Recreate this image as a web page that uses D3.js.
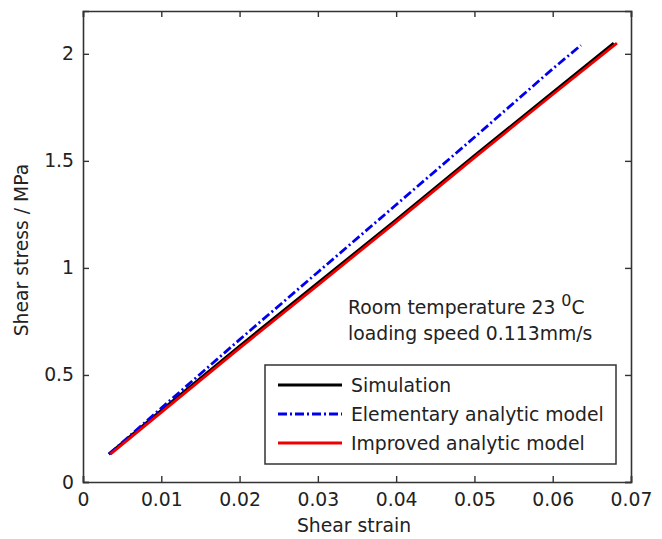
<!DOCTYPE html>
<html>
<head>
<meta charset="utf-8">
<script src="https://cdn.jsdelivr.net/npm/d3@7"></script>
<style>
  html, body { margin: 0; padding: 0; background: #fff; overflow: hidden; }
  svg { display: block; }
  svg text { font-family: "DejaVu Sans", Verdana, sans-serif; fill: #222; }
</style>
</head>
<body>
<svg id="chart" width="662" height="539"></svg>
<script>
// strain values
const simStrain = [0.0033, 0.01, 0.02, 0.03, 0.04, 0.05, 0.06, 0.0678];
const simStress = [0.13, 0.335, 0.635, 0.93, 1.225, 1.525, 1.82, 2.05];

const elemStrain = [0.0033, 0.01, 0.02, 0.03, 0.04, 0.05, 0.06, 0.0636];
const elemStress = [0.13, 0.345, 0.665, 0.98, 1.295, 1.61, 1.93, 2.04];

const impStrain = [0.0035, 0.01, 0.02, 0.03, 0.04, 0.05, 0.06, 0.0682];
const impStress = [0.13, 0.325, 0.625, 0.92, 1.215, 1.515, 1.81, 2.05];

const xTicks = [0, 0.01, 0.02, 0.03, 0.04, 0.05, 0.06, 0.07];
const yTicks = [0, 0.5, 1, 1.5, 2];
const legendNames = ["Simulation", "Elementary analytic model", "Improved analytic model"];

const svg = d3.select('#chart');
const margin = { top: 11, left: 83, right: 31, bottom: 57 };
const width = 662, height = 539;
const innerWidth = width - margin.left - margin.right;
const innerHeight = height - margin.top - margin.bottom;
const fs = '18.8px';

const xScale = d3.scaleLinear().domain([0, 0.07]).range([0, innerWidth]);
const yScale = d3.scaleLinear().domain([0, 2.2]).range([innerHeight, 0]);

const g = svg.append('g').attr('transform', `translate(${margin.left},${margin.top})`);

const axisColor = '#333';
const tickLen = 6;

// bottom + left axes with labels, top + right only ticks (all inward)
const xAxis = d3.axisBottom(xScale).tickValues(xTicks).tickSize(-tickLen).tickPadding(11)
  .tickFormat(d => d === 0 ? '0' : d3.format('.2f')(d));
const gx = g.append('g').attr('transform', `translate(0,${innerHeight})`).call(xAxis);
const gxTop = g.append('g').call(d3.axisTop(xScale).tickValues(xTicks).tickSize(-tickLen));

const yAxis = d3.axisLeft(yScale).tickValues(yTicks).tickSize(-tickLen).tickPadding(9)
  .tickFormat(d => d3.format('')(d));
const gy = g.append('g').call(yAxis);
const gyRight = g.append('g').attr('transform', `translate(${innerWidth},0)`)
  .call(d3.axisRight(yScale).tickValues(yTicks).tickSize(-tickLen));

gxTop.selectAll('.tick text').remove();
gyRight.selectAll('.tick text').remove();

[gx, gxTop, gy, gyRight].forEach(a => {
  a.attr('font-family', null).attr('font-size', null);
  a.select('.domain').attr('stroke', axisColor).attr('stroke-width', 1.6);
  a.selectAll('.tick line').attr('stroke', axisColor).attr('stroke-width', 1.4);
  a.selectAll('.tick text').style('font-size', fs).attr('fill', '#222');
});

// lines
const line = d3.line().x(d => xScale(d[0])).y(d => yScale(d[1]));

g.append('path')
  .datum(d3.zip(simStrain, simStress))
  .attr('d', line).attr('fill', 'none')
  .attr('stroke', '#000').attr('stroke-width', 2.8);

g.append('path')
  .datum(d3.zip(elemStrain, elemStress))
  .attr('d', line).attr('fill', 'none')
  .attr('stroke', '#0000ee').attr('stroke-width', 2.8)
  .attr('stroke-dasharray', '9,3,2,3');

g.append('path')
  .datum(d3.zip(impStrain, impStress))
  .attr('d', line).attr('fill', 'none')
  .attr('stroke', '#ee0000').attr('stroke-width', 2.8);

// annotation
const note = g.append('text').attr('x', 348 - margin.left).attr('y', 314 - margin.top)
  .style('font-size', fs);
note.append('tspan').text('Room temperature 23 ');
note.append('tspan').attr('dy', -8).style('font-size', '16px').text('0');
note.append('tspan').attr('dy', 8).text('C');
g.append('text').attr('x', 348 - margin.left).attr('y', 340 - margin.top)
  .style('font-size', fs).text('loading speed 0.113mm/s');

// legend
const legend = g.append('g').attr('transform', `translate(${265 - margin.left},${365 - margin.top})`);
legend.append('rect').attr('width', 351).attr('height', 99)
  .attr('fill', '#fff').attr('stroke', axisColor).attr('stroke-width', 1.5);
const legendStyles = [
  { color: '#000', dash: null },
  { color: '#0000ee', dash: '9,3,2,3' },
  { color: '#ee0000', dash: null }
];
legendNames.forEach((name, i) => {
  const yy = 20 + i * 29;
  legend.append('line').attr('x1', 13).attr('x2', 77).attr('y1', yy).attr('y2', yy)
    .attr('stroke', legendStyles[i].color).attr('stroke-width', 2.8)
    .attr('stroke-dasharray', legendStyles[i].dash);
  legend.append('text').attr('x', 86).attr('y', yy + 7).style('font-size', fs).text(name);
});

// axis labels
svg.append('text').attr('x', 354).attr('y', 532)
  .attr('text-anchor', 'middle').style('font-size', fs).text('Shear strain');
svg.append('text').attr('transform', `translate(28,250) rotate(-90)`)
  .attr('text-anchor', 'middle').style('font-size', fs).text('Shear stress / MPa');
</script>
</body>
</html>
